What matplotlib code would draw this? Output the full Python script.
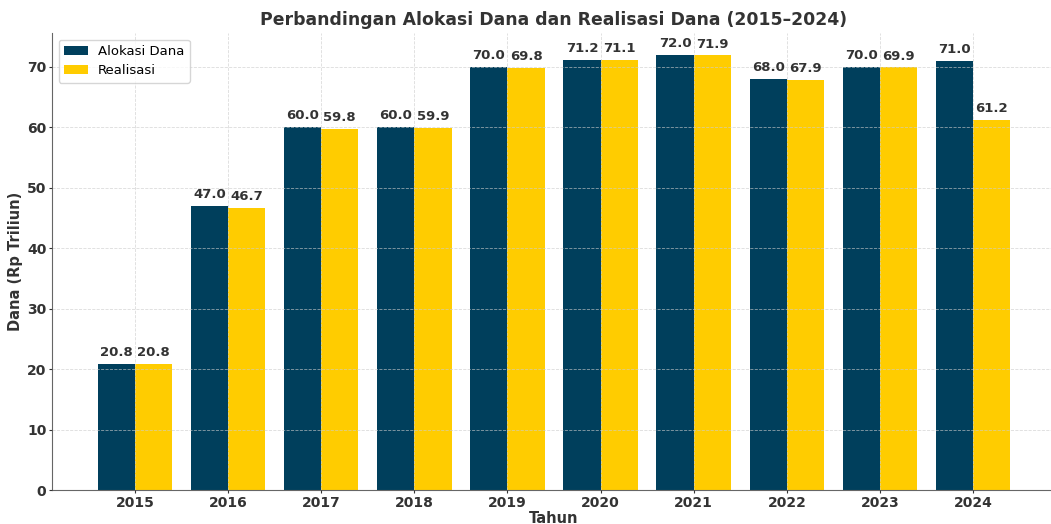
# bar chart: alokasi vs realisasi dana 2015-2024

import numpy as np
import matplotlib.pyplot as plt

tahun = ["2015", "2016", "2017", "2018", "2019", "2020", "2021", "2022", "2023", "2024"]
alokasi = [20.8, 47.0, 60.0, 60.0, 70.0, 71.2, 72.0, 68.0, 70.0, 71.0]
realisasi = [20.8, 46.7, 59.8, 59.9, 69.8, 71.1, 71.9, 67.9, 69.9, 61.2]

x = np.arange(len(tahun))
w = 0.4

fig = plt.figure(figsize=(10.51, 5.24), dpi=100)
ax = fig.add_axes([52/1051, 34/524, 1004/1051, 457/524])

b1 = ax.bar(x - w/2, alokasi, w, color="#003f5c", label="Alokasi Dana")
b2 = ax.bar(x + w/2, realisasi, w, color="#ffcc00", label="Realisasi")

for bars in (b1, b2):
    for b in bars:
        ax.text(b.get_x() + b.get_width()/2, b.get_height() + 0.8, f"{b.get_height():.1f}",
                ha="center", va="bottom", fontsize=9.5, fontweight="bold", color="#333333")

ax.set_xticks(x)
ax.set_xticklabels(tahun)
ax.set_ylim(0, 75.6)
ax.set_xlim(-0.89, 9.89)
ax.tick_params(labelsize=10, colors="#333333", length=2, pad=2)
for lab in ax.get_xticklabels() + ax.get_yticklabels():
    lab.set_fontweight("bold")

ax.set_title("Perbandingan Alokasi Dana dan Realisasi Dana (2015\u20132024)",
             fontsize=12.4, fontweight="bold", color="#333333", pad=6)
ax.set_xlabel("Tahun", fontsize=10.5, fontweight="bold", color="#333333", labelpad=1)
ax.set_ylabel("Dana (Rp Triliun)", fontsize=10.5, fontweight="bold", color="#333333", labelpad=3)

ax.grid(True, linestyle="--", linewidth=0.6, color="#cccccc", alpha=0.7)
ax.set_axisbelow(False)
ax.spines["top"].set_visible(False)
ax.spines["right"].set_visible(False)
ax.spines["left"].set_color("#666666")
ax.spines["bottom"].set_color("#666666")

ax.legend(loc="upper left", fontsize=9.5, frameon=True, handlelength=1.8)

fig.savefig("out.png", dpi=100)
